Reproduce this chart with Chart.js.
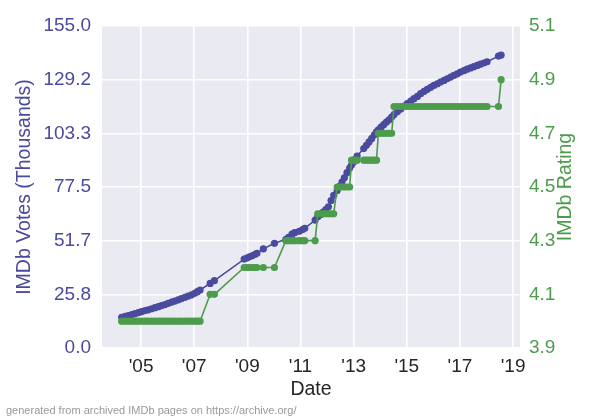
<!DOCTYPE html>
<html>
<head>
<meta charset="utf-8">
<script src="https://cdn.jsdelivr.net/npm/chart.js@4.4.1/dist/chart.umd.min.js"></script>
<style>
  html, body { margin: 0; padding: 0; background: #fff; }
</style>
</head>
<body>
<canvas id="chart" width="600" height="420"></canvas>
<script>
// archive snapshot dates (decimal years)
const dates = [
  2004.27, 2004.4, 2004.52, 2004.65, 2004.77, 2004.9, 2005.02, 2005.15, 2005.27, 2005.4,
  2005.52, 2005.65, 2005.77, 2005.9, 2006.02, 2006.15, 2006.27, 2006.4, 2006.52, 2006.65,
  2006.77, 2006.9, 2007.02, 2007.12, 2007.22,
  2007.6, 2007.76,
  2008.88, 2008.98, 2009.08, 2009.18, 2009.28, 2009.36, 2009.6, 2010.02,
  2010.45, 2010.55, 2010.68, 2010.78, 2010.95, 2011.08, 2011.16, 2011.55,
  2011.65, 2011.75, 2011.85, 2011.95, 2012.05, 2012.15, 2012.25,
  2012.38, 2012.47, 2012.56, 2012.65, 2012.75, 2012.85,
  2012.92, 2012.99, 2013.06, 2013.13, 2013.38, 2013.48, 2013.58, 2013.68, 2013.78, 2013.86,
  2013.93, 2014.03, 2014.13, 2014.23, 2014.33, 2014.43,
  2014.52, 2014.65, 2014.77, 2014.9, 2015.02, 2015.15, 2015.27, 2015.4, 2015.52, 2015.65,
  2015.77, 2015.9, 2016.02, 2016.15, 2016.27, 2016.4, 2016.52, 2016.65, 2016.77, 2016.9,
  2017.02, 2017.15, 2017.27, 2017.4, 2017.52, 2017.65, 2017.77, 2017.9, 2018.02,
  2018.45, 2018.55
];

// votes in thousands
const votes = [
  14.8, 15.2, 15.6, 16.1, 16.5, 17.0, 17.5, 18.0, 18.4, 18.9,
  19.4, 19.9, 20.4, 20.9, 21.5, 22.1, 22.6, 23.2, 23.8, 24.4,
  25.0, 25.6, 26.3, 27.1, 27.9,
  31.1, 32.4,
  42.8, 43.3, 43.9, 44.4, 45.0, 45.6, 47.7, 50.4,
  52.3, 53.3, 54.8, 55.5, 56.2, 57.0, 57.6, 61.6,
  63.2, 64.2, 65.4, 66.6, 68.0, 71.0, 73.5,
  75.8, 77.8, 79.9, 81.9, 84.4, 86.6,
  88.1, 89.4, 90.8, 92.4, 96.0, 97.6, 99.2, 100.9, 102.6, 104.0,
  105.0, 106.3, 107.5, 108.7, 109.8, 111.2,
  112.4, 113.8, 115.1, 116.4, 117.7, 118.9, 120.0, 121.1, 122.4, 123.5,
  124.5, 125.5, 126.4, 127.2, 128.0, 128.8, 129.6, 130.4, 131.2, 132.0,
  132.8, 133.5, 134.2, 134.8, 135.4, 136.0, 136.6, 137.2, 137.8,
  140.5, 141.0
];

const ratings = [
  4.0, 4.0, 4.0, 4.0, 4.0, 4.0, 4.0, 4.0, 4.0, 4.0,
  4.0, 4.0, 4.0, 4.0, 4.0, 4.0, 4.0, 4.0, 4.0, 4.0,
  4.0, 4.0, 4.0, 4.0, 4.0,
  4.1, 4.1,
  4.2, 4.2, 4.2, 4.2, 4.2, 4.2, 4.2, 4.2,
  4.3, 4.3, 4.3, 4.3, 4.3, 4.3, 4.3, 4.3,
  4.4, 4.4, 4.4, 4.4, 4.4, 4.4, 4.4,
  4.5, 4.5, 4.5, 4.5, 4.5, 4.5,
  4.6, 4.6, 4.6, 4.6, 4.6, 4.6, 4.6, 4.6, 4.6, 4.6,
  4.7, 4.7, 4.7, 4.7, 4.7, 4.7,
  4.8, 4.8, 4.8, 4.8, 4.8, 4.8, 4.8, 4.8, 4.8, 4.8,
  4.8, 4.8, 4.8, 4.8, 4.8, 4.8, 4.8, 4.8, 4.8, 4.8,
  4.8, 4.8, 4.8, 4.8, 4.8, 4.8, 4.8, 4.8, 4.8,
  4.8, 4.9
];

const xTickYears = [2005, 2007, 2009, 2011, 2013, 2015, 2017, 2019];
const voteTicks = [0, 25.8, 51.7, 77.5, 103.3, 129.2, 155.0];
const ratingTicks = [3.9, 4.1, 4.3, 4.5, 4.7, 4.9, 5.1];

const blue = '#4a4a9e';
const green = '#4c9c4c';
const dark = '#262626';

Chart.defaults.font.family = "'Liberation Sans', Arial, sans-serif";

const plotBg = {
  id: 'plotBg',
  beforeDraw(chart) {
    const { ctx, chartArea: a } = chart;
    ctx.save();
    ctx.fillStyle = '#eaeaf2';
    ctx.fillRect(a.left, a.top, a.right - a.left, a.bottom - a.top);
    ctx.restore();
  }
};

// right axis title reads bottom-to-top like the left one
const rightTitle = {
  id: 'rightTitle',
  afterDraw(chart) {
    const { ctx, chartArea: a } = chart;
    ctx.save();
    ctx.translate(566, (a.top + a.bottom) / 2);
    ctx.rotate(-Math.PI / 2);
    ctx.fillStyle = green;
    ctx.font = "19.5px 'Liberation Sans', Arial, sans-serif";
    ctx.textAlign = 'center';
    ctx.textBaseline = 'middle';
    ctx.fillText('IMDb Rating', 0, 0);
    ctx.restore();
  }
};

new Chart(document.getElementById('chart'), {
  type: 'line',
  data: {
    datasets: [{
      label: 'IMDb Rating',
      data: dates.map((d, i) => ({ x: d, y: ratings[i] })),
      yAxisID: 'y1',
      borderColor: green,
      backgroundColor: green,
      borderWidth: 1.6,
      pointRadius: 3.6,
      pointBorderWidth: 0,
      order: 0
    }, {
      label: 'IMDb Votes (Thousands)',
      data: dates.map((d, i) => ({ x: d, y: votes[i] })),
      yAxisID: 'y',
      borderColor: blue,
      backgroundColor: blue,
      borderWidth: 1.6,
      pointRadius: 3.6,
      pointBorderWidth: 0,
      order: 1
    }]
  },
  options: {
    responsive: false,
    animation: false,
    layout: { padding: { left: 6, right: 0, top: 26, bottom: 2 } },
    plugins: {
      legend: { display: false },
      tooltip: { enabled: false },
      subtitle: {
        display: true,
        position: 'bottom',
        align: 'start',
        text: 'generated from archived IMDb pages on https://archive.org/',
        color: '#999999',
        font: { size: 11, weight: 'normal' },
        padding: 0
      }
    },
    scales: {
      x: {
        type: 'linear',
        min: 2003.53,
        max: 2019.26,
        afterBuildTicks: s => { s.ticks = xTickYears.map(v => ({ value: v })); },
        afterFit: s => { s.height = 56.8; },
        ticks: {
          callback: v => "'" + String(v).slice(2),
          color: dark,
          font: { size: 19 },
          padding: 7,
          maxRotation: 0,
          autoSkip: false
        },
        grid: { color: '#ffffff', lineWidth: 1.6, drawTicks: false },
        border: { display: false },
        title: { display: true, text: 'Date', color: dark, font: { size: 19.5 }, padding: { top: 0, bottom: 3.6 } }
      },
      y: {
        position: 'left',
        min: 0,
        max: 155,
        afterBuildTicks: s => { s.ticks = voteTicks.map(v => ({ value: v })); },
        afterFit: s => { s.width = 96; },
        ticks: { callback: v => v.toFixed(1), color: blue, font: { size: 19 }, padding: 11 },
        grid: { color: '#ffffff', lineWidth: 1.6, drawTicks: false },
        border: { display: false },
        title: { display: true, text: 'IMDb Votes (Thousands)', color: blue, font: { size: 19.5 }, padding: { top: 7, bottom: 0 } }
      },
      y1: {
        position: 'right',
        min: 3.9,
        max: 5.1,
        afterBuildTicks: s => { s.ticks = ratingTicks.map(v => ({ value: v })); },
        afterFit: s => { s.width = 80; },
        ticks: { callback: v => v.toFixed(1), color: green, font: { size: 19 }, padding: 9 },
        grid: { display: false, drawTicks: false },
        border: { display: false }
      }
    }
  },
  plugins: [plotBg, rightTitle]
});
</script>
</body>
</html>
